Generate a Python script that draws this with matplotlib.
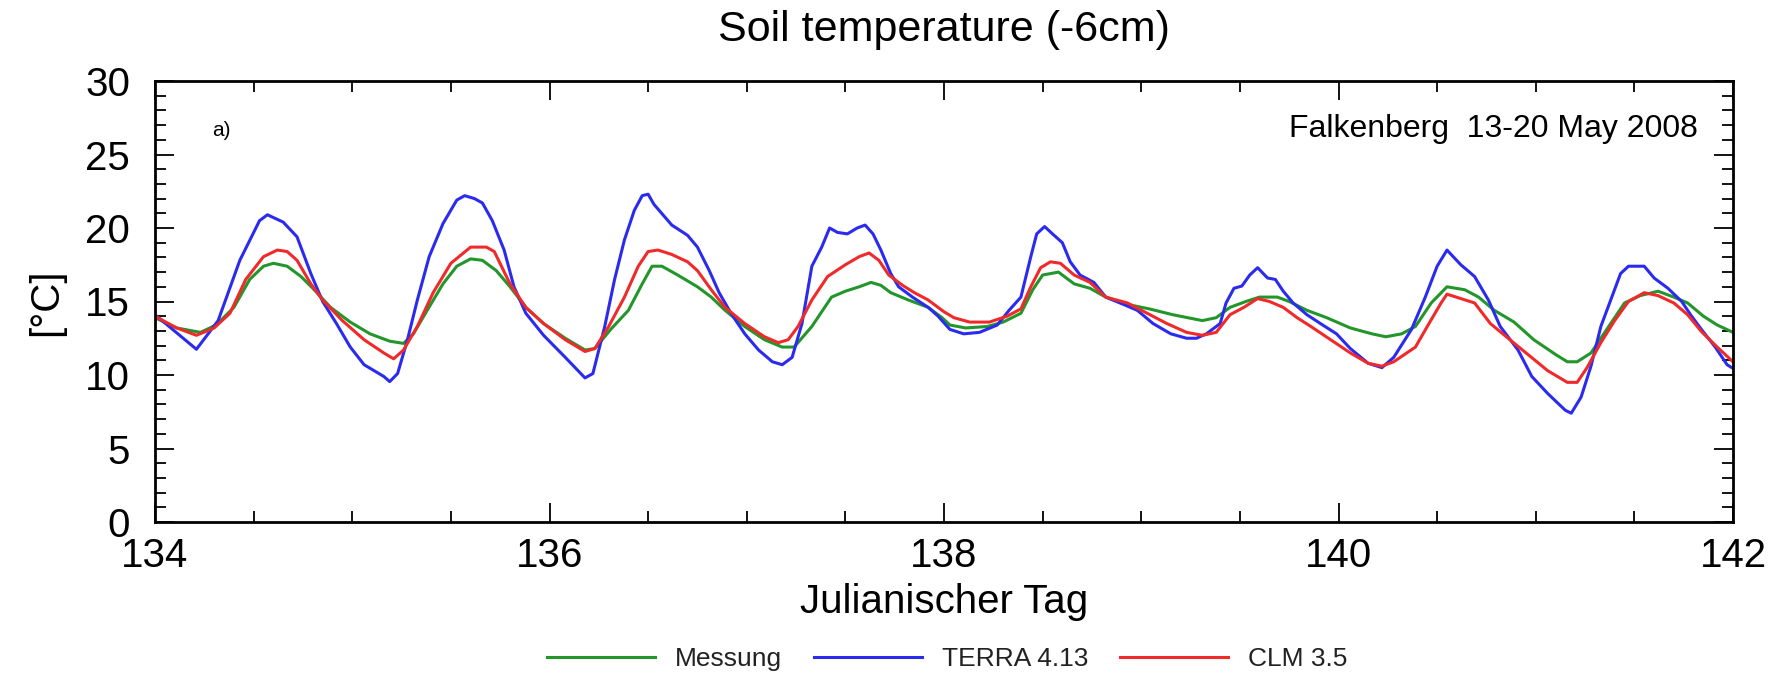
import matplotlib
matplotlib.use("Agg")
import matplotlib.pyplot as plt
from matplotlib.ticker import MultipleLocator

plt.rcParams["font.family"] = ["Liberation Sans", "DejaVu Sans"]

mess_day = [134.00, 134.11, 134.23, 134.31, 134.40, 134.48, 134.55, 134.60, 134.67, 134.74,
            134.80, 134.89, 134.99, 135.09, 135.19, 135.26, 135.31, 135.38, 135.46, 135.53,
            135.60, 135.66, 135.73, 135.80, 135.88, 135.97, 136.08, 136.18, 136.23, 136.31,
            136.40, 136.47, 136.52, 136.57, 136.65, 136.75, 136.82, 136.89, 136.99, 137.09,
            137.18, 137.24, 137.33, 137.43, 137.50, 137.57, 137.63, 137.68, 137.73, 137.82,
            137.92, 137.99, 138.03, 138.11, 138.22, 138.30, 138.39, 138.45, 138.50, 138.58,
            138.66, 138.74, 138.82, 138.93, 139.04, 139.16, 139.31, 139.38, 139.45, 139.53,
            139.60, 139.69, 139.75, 139.84, 139.94, 140.06, 140.17, 140.24, 140.32, 140.39,
            140.47, 140.55, 140.64, 140.71, 140.79, 140.89, 140.99, 141.10, 141.16, 141.21,
            141.28, 141.37, 141.45, 141.53, 141.62, 141.70, 141.77, 141.85, 141.92, 142.00]
mess_temp = [13.9, 13.2, 12.9, 13.4, 14.6, 16.5, 17.4, 17.6, 17.4, 16.7,
             15.9, 14.6, 13.6, 12.8, 12.3, 12.15, 12.8, 14.4, 16.2, 17.4,
             17.9, 17.8, 17.1, 16.0, 14.6, 13.5, 12.5, 11.7, 11.8, 13.1,
             14.4, 16.2, 17.4, 17.4, 16.8, 16.0, 15.3, 14.4, 13.3, 12.4,
             11.9, 11.9, 13.3, 15.3, 15.7, 16.0, 16.3, 16.1, 15.6, 15.1,
             14.6, 13.9, 13.4, 13.2, 13.3, 13.6, 14.2, 15.8, 16.8, 17.0,
             16.2, 15.9, 15.3, 14.8, 14.5, 14.1, 13.7, 13.9, 14.6, 15.0,
             15.3, 15.3, 15.0, 14.4, 13.9, 13.2, 12.8, 12.6, 12.8, 13.3,
             14.9, 16.0, 15.8, 15.3, 14.4, 13.6, 12.4, 11.4, 10.9, 10.9,
             11.5, 13.3, 14.9, 15.4, 15.7, 15.3, 14.9, 14.0, 13.4, 12.9]

# TERRA 4.13
terra_day = [134.00, 134.21, 134.32, 134.43, 134.53, 134.57, 134.65, 134.72, 134.79, 134.85,
             134.92, 134.99, 135.06, 135.16, 135.19, 135.23, 135.28, 135.33, 135.39, 135.46,
             135.53, 135.57, 135.62, 135.66, 135.71, 135.77, 135.82, 135.88, 135.97, 136.08,
             136.18, 136.22, 136.28, 136.33, 136.38, 136.43, 136.47, 136.50, 136.53, 136.62,
             136.70, 136.75, 136.81, 136.86, 136.92, 136.99, 137.06, 137.13, 137.18, 137.23,
             137.28, 137.33, 137.38, 137.42, 137.46, 137.51, 137.56, 137.60, 137.64, 137.68,
             137.73, 137.77, 137.84, 137.92, 137.97, 138.03, 138.10, 138.18, 138.27, 138.33,
             138.39, 138.44, 138.47, 138.51, 138.55, 138.60, 138.64, 138.69, 138.76, 138.82,
             138.91, 138.98, 139.06, 139.15, 139.23, 139.28, 139.33, 139.40, 139.43, 139.47,
             139.51, 139.55, 139.59, 139.64, 139.68, 139.72, 139.77, 139.84, 139.92, 139.99,
             140.06, 140.15, 140.22, 140.28, 140.37, 140.44, 140.50, 140.55, 140.62, 140.69,
             140.76, 140.82, 140.91, 140.98, 141.06, 141.15, 141.18, 141.23, 141.28, 141.33,
             141.38, 141.43, 141.47, 141.55, 141.60, 141.67, 141.74, 141.79, 141.84, 141.91,
             141.97, 142.00]
terra_temp = [14.1, 11.75, 13.7, 17.8, 20.5, 20.9, 20.4, 19.4, 16.9, 15.0,
              13.5, 11.9, 10.7, 9.9, 9.55, 10.1, 12.4, 15.1, 18.05, 20.3,
              21.9, 22.2, 22.0, 21.7, 20.5, 18.5, 16.0, 14.2, 12.7, 11.2,
              9.8, 10.1, 13.3, 16.5, 19.2, 21.2, 22.2, 22.3, 21.6, 20.2,
              19.5, 18.7, 17.1, 15.6, 14.2, 12.8, 11.7, 10.9, 10.7, 11.2,
              13.5, 17.4, 18.7, 20.0, 19.7, 19.6, 20.0, 20.2, 19.6, 18.5,
              16.9, 16.0, 15.3, 14.6, 14.0, 13.1, 12.8, 12.9, 13.4, 14.4,
              15.3, 18.05, 19.6, 20.1, 19.6, 19.0, 17.7, 16.8, 16.3, 15.3,
              14.8, 14.4, 13.5, 12.8, 12.5, 12.5, 12.8, 13.5, 14.9, 15.9,
              16.05, 16.8, 17.3, 16.6, 16.5, 15.7, 14.9, 14.1, 13.4, 12.8,
              11.8, 10.8, 10.5, 11.2, 13.1, 15.3, 17.4, 18.5, 17.5, 16.7,
              15.1, 13.3, 11.7, 9.9, 8.75, 7.6, 7.4, 8.5, 10.6, 13.3,
              15.1, 16.9, 17.4, 17.4, 16.6, 15.9, 15.0, 14.0, 13.1, 11.9,
              10.7, 10.45]

# CLM 3.5
clm_day = [134.00, 134.11, 134.21, 134.30, 134.38, 134.46, 134.55, 134.62, 134.67, 134.72,
           134.79, 134.85, 134.95, 135.06, 135.16, 135.21, 135.26, 135.33, 135.41, 135.50,
           135.60, 135.68, 135.72, 135.80, 135.88, 135.97, 136.08, 136.18, 136.23, 136.30,
           136.38, 136.45, 136.50, 136.55, 136.62, 136.70, 136.75, 136.82, 136.89, 136.99,
           137.09, 137.16, 137.21, 137.26, 137.33, 137.41, 137.50, 137.57, 137.62, 137.67,
           137.72, 137.79, 137.85, 137.92, 138.00, 138.05, 138.13, 138.23, 138.32, 138.39,
           138.44, 138.49, 138.54, 138.59, 138.66, 138.74, 138.82, 138.93, 139.03, 139.13,
           139.23, 139.31, 139.38, 139.45, 139.52, 139.59, 139.65, 139.72, 139.79, 139.86,
           139.96, 140.06, 140.15, 140.22, 140.28, 140.39, 140.45, 140.52, 140.55, 140.62,
           140.69, 140.77, 140.86, 140.96, 141.06, 141.16, 141.21, 141.26, 141.33, 141.40,
           141.47, 141.55, 141.62, 141.70, 141.77, 141.84, 141.92, 142.00]
clm_temp = [14.0, 13.2, 12.7, 13.2, 14.2, 16.5, 18.05, 18.5, 18.4, 17.8,
            16.2, 15.1, 13.7, 12.4, 11.5, 11.1, 11.7, 13.3, 15.6, 17.6,
            18.7, 18.7, 18.4, 16.2, 14.6, 13.5, 12.4, 11.6, 11.8, 13.3,
            15.3, 17.4, 18.4, 18.5, 18.2, 17.7, 17.1, 15.8, 14.6, 13.5,
            12.6, 12.2, 12.4, 13.3, 15.1, 16.7, 17.5, 18.05, 18.3, 17.8,
            16.8, 16.1, 15.6, 15.1, 14.3, 13.9, 13.6, 13.6, 14.0, 14.5,
            16.0, 17.3, 17.7, 17.6, 16.8, 16.3, 15.3, 14.9, 14.2, 13.5,
            12.9, 12.7, 12.9, 14.1, 14.6, 15.2, 15.0, 14.6, 13.9, 13.3,
            12.4, 11.5, 10.8, 10.6, 10.9, 11.9, 13.3, 14.9, 15.5, 15.2,
            14.9, 13.5, 12.5, 11.4, 10.3, 9.5, 9.5, 10.5, 12.2, 13.7,
            15.0, 15.6, 15.4, 14.9, 14.1, 12.95, 11.9, 10.9]

W, H = 1785, 679
fig = plt.figure(figsize=(W / 100, H / 100), dpi=100)
ax = fig.add_axes([155 / W, 1 - 522 / H, (1733 - 155) / W, (522 - 81) / H])

ax.plot(mess_day, mess_temp, color="#23962b", lw=2.2, label="Messung")
ax.plot(terra_day, terra_temp, color="#2b2bef", lw=2.2, label="TERRA 4.13")
ax.plot(clm_day, clm_temp, color="#f02a2a", lw=2.2, label="CLM 3.5")

ax.set_xlim(134, 142)
ax.set_ylim(0, 30)
ax.xaxis.set_major_locator(MultipleLocator(2))
ax.xaxis.set_minor_locator(MultipleLocator(0.5))
ax.yaxis.set_major_locator(MultipleLocator(5))
ax.yaxis.set_minor_locator(MultipleLocator(1))
ax.tick_params(which="both", direction="in", top=True, right=True, width=1.3,
               labelsize=29)
ax.tick_params(which="major", length=14)
ax.tick_params(which="minor", length=8)
ax.tick_params(axis="y", pad=18)
ax.tick_params(axis="x", pad=11)
for s in ax.spines.values():
    s.set_linewidth(2)

fig.text(212 / W, 1 - 136 / H, "a)", fontsize=15, va="baseline", ha="left")
fig.text(1698 / W, 1 - 137 / H, "Falkenberg  13-20 May 2008", fontsize=23,
         ha="right", va="baseline")
fig.text(944 / W, 1 - 41 / H, "Soil temperature (-6cm)", fontsize=31,
         ha="center", va="baseline")
fig.text(944 / W, 1 - 613 / H, "Julianischer Tag", fontsize=29,
         ha="center", va="baseline")
fig.text(46 / W, 1 - 302 / H, "[°C]", fontsize=29, rotation=90,
         ha="center", va="center")

leg = fig.legend(loc="center", bbox_to_anchor=(947 / W, 1 - 659 / H), ncol=3,
                 frameon=False, fontsize=19, handlelength=4.1, handletextpad=0.75,
                 columnspacing=1.2, borderaxespad=0, borderpad=0)
for t in leg.get_texts():
    t.set_color("#222222")

fig.savefig("out.png", dpi=100)
